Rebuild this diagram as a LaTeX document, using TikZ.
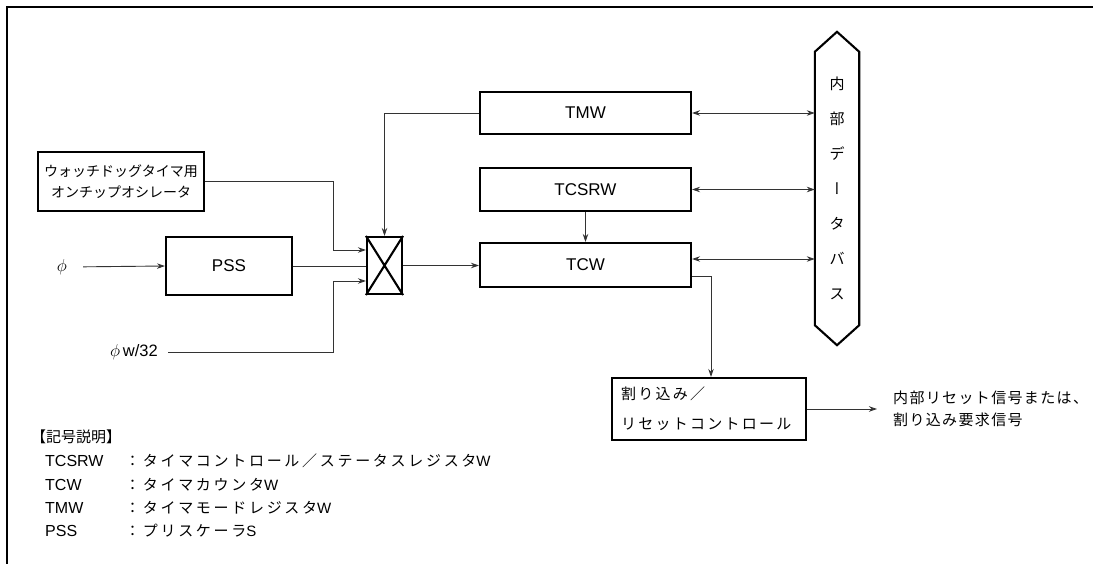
\documentclass[tikz,border=0pt]{standalone}
\usepackage{fontspec}
\setmainfont{Liberation Sans}
\newfontfamily\jp{Noto Sans CJK JP}
\newfontfamily\jpv[RawFeature=+vert]{Noto Sans CJK JP}
\usetikzlibrary{arrows.meta,calc}
\newcommand\fLeg{\fontsize{15}{18}\selectfont\jp\addfontfeature{LetterSpace=18}}
\newcommand\fIrq{\fontsize{15}{30}\selectfont\jp\addfontfeature{LetterSpace=15}}
\newcommand\fOut{\fontsize{15}{22}\selectfont\jp\addfontfeature{LetterSpace=9}}
\begin{document}
\begin{tikzpicture}[x=1pt,y=-1pt,
  box/.style={draw, line width=2.1pt, inner sep=0pt},
  lbl/.style={font=\fontsize{17}{20}\selectfont},
  conn/.style={draw=black!80, line width=0.9pt},
  arr/.style={conn, -{Stealth[length=8pt,width=5.5pt]}},
  biarr/.style={conn, {Stealth[length=8pt,width=5.5pt]}-{Stealth[length=8pt,width=5.5pt]}},
  txt/.style={inner sep=0pt, anchor=west}]
\useasboundingbox (0,0) rectangle (1093,564);
\draw[line width=2pt] (7,564) -- (7,7) -- (1093,7);

% blocks
\node[box, minimum width=166pt, minimum height=59pt, align=center,
      font=\fontsize{14}{21}\selectfont\jp] (osc) at (121,181.5)
      {ウォッチドッグタイマ用\\オンチップオシレータ};
\node[box, lbl, minimum width=126pt, minimum height=58pt] (pss) at (229,266) {PSS};
\node[box, minimum width=35pt, minimum height=57pt] (mux) at (384.5,265.5) {};
\draw[line width=2.1pt] (mux.north west) -- (mux.south east)
                        (mux.north east) -- (mux.south west);
\node[box, lbl, minimum width=211pt, minimum height=42pt] (tmw) at (585.5,113) {TMW};
\node[box, lbl, minimum width=211pt, minimum height=43pt] (tcsrw) at (585.5,189.5) {TCSRW};
\node[box, lbl, minimum width=211pt, minimum height=44pt] (tcw) at (585.5,265) {TCW};
\node[box, minimum height=62pt, text width=176pt, inner xsep=9pt, align=left,
      font=\fIrq] (irq) at (709,409) {割り込み／\\リセットコントロール};

% internal data bus
\node[inner sep=0pt, minimum width=44pt, minimum height=313pt] (bus) at (837,188.5) {};
\draw[line width=2.1pt] (bus.north) -- ($(bus.north east)+(0,20)$) -- ($(bus.south east)+(0,-20)$)
  -- (bus.south) -- ($(bus.south west)+(0,-20)$) -- ($(bus.north west)+(0,20)$) -- cycle;
\node[inner sep=0pt, align=center, font=\fontsize{15}{35}\selectfont\jp] (bustxt) at (bus.center)
  {内\\部\\デ\\{\jpv ー}\\タ\\バ\\ス};

% inputs
\node[inner sep=0pt, font=\fontsize{17}{20}\selectfont] (phi) at (62,267) {$\phi$};
\node[inner sep=0pt, anchor=east, font=\fontsize{16.5}{20}\selectfont] (phw) at (158,352) {$\phi$\,w/32};

% output text
\node[txt, align=left, font=\fOut] (out) at (893,409) {内部リセット信号または、\\割り込み要求信号};

% connectors
\draw[arr, shorten <=16pt] (phi.east) -- (pss.west);
\draw[conn] (pss.east) -- (pss.east -| mux.west);
\draw[arr] (osc.east) -| ($(mux.west)+(-33,-15.5)$) -- ($(mux.west)+(0,-15.5)$);
\draw[arr, shorten <=10pt] (phw.east) -| ($(mux.west)+(-33,15.5)$) -- ($(mux.west)+(0,15.5)$);
\draw[arr] (tmw.west) -| (mux.north);
\draw[arr] (mux.east) -- (mux.east -| tcw.west);
\draw[arr] (tcsrw.south) -- (tcw.north);
\draw[biarr] (tmw.east) -- (tmw.east -| bus.west);
\draw[biarr] (tcsrw.east) -- (tcsrw.east -| bus.west);
\coordinate (tcwb) at ($(tcw.east)+(0,-6)$);
\draw[biarr] (tcwb) -- (tcwb -| bus.west);
\coordinate (tcwo) at ($(tcw.east)+(0,11)$);
\draw[arr] (tcwo) -| ($(irq.north)+(2,0)$);
\draw[arr, shorten >=16pt] (irq.east) -- (out.west);

% legend
\node[txt, font=\fontsize{15}{18}\selectfont\jp] (leg) at (31,437) {【記号説明】};
\node[txt, font=\fontsize{16}{18}\selectfont] (l1) at (45,461) {TCSRW};
\node[txt, font=\fLeg] (d1) at (125,461) {：タイマコントロール／ステータスレジスタ{\rmfamily W}};
\node[txt, font=\fontsize{16}{18}\selectfont] (l2) at (45,485) {TCW};
\node[txt, font=\fLeg] (d2) at (125,485) {：タイマカウンタ{\rmfamily W}};
\node[txt, font=\fontsize{16}{18}\selectfont] (l3) at (45,508) {TMW};
\node[txt, font=\fLeg] (d3) at (125,508) {：タイマモードレジスタ{\rmfamily W}};
\node[txt, font=\fontsize{16}{18}\selectfont] (l4) at (45,531) {PSS};
\node[txt, font=\fLeg] (d4) at (125,531) {：プリスケーラ{\rmfamily S}};
\end{tikzpicture}
\end{document}
